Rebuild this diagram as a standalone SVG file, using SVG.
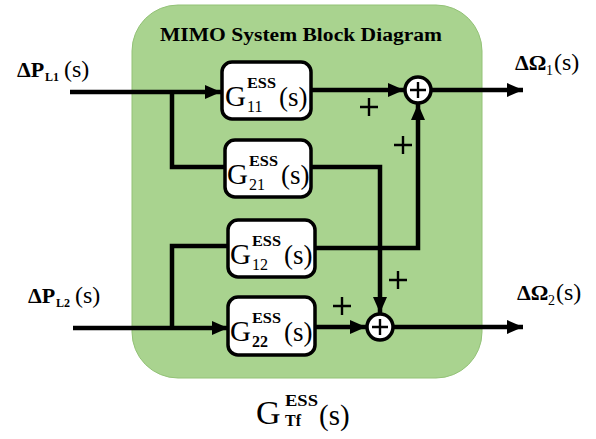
<svg xmlns="http://www.w3.org/2000/svg" width="596" height="439" viewBox="0 0 596 439" font-family="'Liberation Serif', 'DejaVu Serif', serif">
<defs>
<marker id="ah" markerUnits="userSpaceOnUse" markerWidth="18" markerHeight="16" refX="16" refY="8" orient="auto">
<path d="M0,1 L16,8 L0,15 Z" fill="#000"/>
</marker>
</defs>
<style>
.b{font-weight:bold}
.blk{fill:#fff;stroke:#000;stroke-width:3.5}
.wire{fill:none;stroke:#000;stroke-width:4.5}
.sum{fill:#fff;stroke:#000;stroke-width:3.5}
.pl{stroke:#000;stroke-width:2.4;fill:none}
</style>
<rect id="bg" x="0" y="0" width="596" height="439" fill="#fff"/>
<g id="system">
<rect x="132" y="5" width="350" height="373" rx="46" ry="46" fill="#a9d38f" stroke="#93c277" stroke-width="1"/>
<text font-family="Liberation Serif" class="b" x="160" y="41" font-size="18" textLength="282" lengthAdjust="spacingAndGlyphs">MIMO System Block Diagram</text>
</g>
<g id="connectors">
<path class="wire" d="M70,92 H221" marker-end="url(#ah)"/>
<path class="wire" d="M172,92 V167 H225"/>
<path class="wire" d="M312,90 H404" marker-end="url(#ah)"/>
<path class="wire" d="M432,90 H523" marker-end="url(#ah)"/>
<path class="wire" d="M312,167 H380 V313" marker-end="url(#ah)"/>
<path class="wire" d="M315,248 H418 V104" marker-end="url(#ah)"/>
<path class="wire" d="M73,328 H228" marker-end="url(#ah)"/>
<path class="wire" d="M172,328 V246 H228"/>
<path class="wire" d="M315,327 H366" marker-end="url(#ah)"/>
<path class="wire" d="M394,327 H523" marker-end="url(#ah)"/>
</g>
<g id="in1" font-family="Liberation Serif">
<text class="b" x="17" y="77" font-size="22">ΔP</text>
<text class="b" x="45" y="81" font-size="12">L1</text>
<text x="64" y="77" font-size="24">(s)</text>
</g>
<g id="in2" font-family="Liberation Serif">
<text class="b" x="28" y="303" font-size="22">ΔP</text>
<text class="b" x="56" y="307" font-size="12">L2</text>
<text x="75" y="303" font-size="24">(s)</text>
</g>
<g id="out1" font-family="Liberation Serif">
<text class="b" x="515" y="70" font-size="22">ΔΩ</text>
<text x="546" y="75" font-size="14">1</text>
<text x="554" y="70" font-size="24">(s)</text>
</g>
<g id="out2" font-family="Liberation Serif">
<text class="b" x="517" y="300" font-size="22">ΔΩ</text>
<text x="548" y="305" font-size="14">2</text>
<text x="556" y="300" font-size="24">(s)</text>
</g>
<g id="G11" font-family="Liberation Serif">
<rect class="blk" x="222" y="62" width="89" height="57" rx="10"/>
<text x="225" y="106" font-size="29">G</text>
<text class="b" x="247" y="88" font-size="15" textLength="29" lengthAdjust="spacingAndGlyphs">ESS</text>
<text x="247" y="112" font-size="16">11</text>
<text x="279" y="106" font-size="27">(s)</text>
</g>
<g id="G21" font-family="Liberation Serif">
<rect class="blk" x="225" y="140" width="86" height="57" rx="10"/>
<text x="227" y="184" font-size="29">G</text>
<text class="b" x="249" y="166" font-size="15" textLength="29" lengthAdjust="spacingAndGlyphs">ESS</text>
<text x="249" y="190" font-size="16">21</text>
<text x="281" y="184" font-size="27">(s)</text>
</g>
<g id="G12" font-family="Liberation Serif">
<rect class="blk" x="228" y="220" width="87" height="57" rx="10"/>
<text x="230" y="264" font-size="29">G</text>
<text class="b" x="252" y="246" font-size="15" textLength="29" lengthAdjust="spacingAndGlyphs">ESS</text>
<text x="252" y="270" font-size="16">12</text>
<text x="284" y="264" font-size="27">(s)</text>
</g>
<g id="G22" font-family="Liberation Serif">
<rect class="blk" x="228" y="297" width="87" height="58" rx="10"/>
<text x="230" y="341" font-size="29">G</text>
<text class="b" x="252" y="323" font-size="15" textLength="29" lengthAdjust="spacingAndGlyphs">ESS</text>
<text class="b" x="252" y="347" font-size="16">22</text>
<text x="284" y="341" font-size="27">(s)</text>
</g>
<g id="sum1">
<circle class="sum" cx="418" cy="90" r="13"/>
<path class="pl" d="M410,90 H426 M418,82 V98"/>
<path class="pl" d="M360,107 H378 M369,98 V116"/>
<path class="pl" d="M394,145 H412 M403,136 V154"/>
</g>
<g id="sum2">
<circle class="sum" cx="380" cy="327" r="13"/>
<path class="pl" d="M372,327 H388 M380,319 V335"/>
<path class="pl" d="M333,306 H351 M342,297 V315"/>
<path class="pl" d="M389,280 H407 M398,271 V289"/>
</g>
<g id="tf" font-family="Liberation Serif">
<text x="256" y="424" font-size="34">G</text>
<text class="b" x="285" y="406" font-size="17" textLength="33" lengthAdjust="spacingAndGlyphs">ESS</text>
<text class="b" x="285" y="426" font-size="16">Tf</text>
<text x="319" y="425" font-size="29">(s)</text>
</g>
</svg>
